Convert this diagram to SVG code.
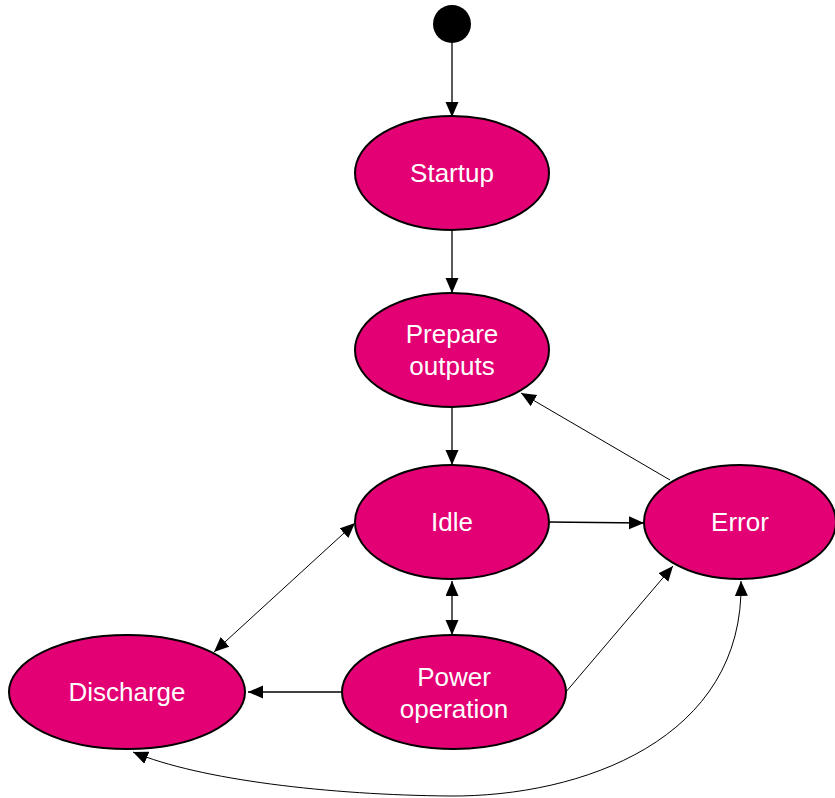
<svg xmlns="http://www.w3.org/2000/svg" width="835" height="798" viewBox="0 0 835 798">
<style>
.node ellipse{fill:#E20074;stroke:#000;stroke-width:2}
.node text{fill:#fff;font-family:"Liberation Sans",Arial,sans-serif;font-size:26px;text-anchor:middle}
.conn{fill:none;stroke:#000;stroke-width:1.3}
.thin{stroke-width:1}
</style>
<defs>
<marker id="ah" markerUnits="userSpaceOnUse" markerWidth="17" markerHeight="15" refX="15" refY="6.5" orient="auto-start-reverse">
<path d="M0,0 L15,6.5 L0,13 z" fill="#000"/>
</marker>
</defs>
<g id="connectors">
<line class="conn" x1="452" y1="43" x2="452" y2="117" marker-end="url(#ah)"/>
<line class="conn" x1="452" y1="231" x2="452" y2="293" marker-end="url(#ah)"/>
<line class="conn" x1="452" y1="408" x2="452" y2="465" marker-end="url(#ah)"/>
<line class="conn" x1="452" y1="581" x2="452" y2="635" marker-start="url(#ah)" marker-end="url(#ah)"/>
<line class="conn" x1="548" y1="522" x2="644" y2="523" marker-end="url(#ah)"/>
<line class="conn thin" x1="670" y1="480" x2="521" y2="393" marker-end="url(#ah)"/>
<line class="conn thin" x1="355" y1="523" x2="214" y2="652" marker-start="url(#ah)" marker-end="url(#ah)"/>
<line class="conn" x1="342" y1="692" x2="248" y2="692" marker-end="url(#ah)"/>
<line class="conn thin" x1="565" y1="693" x2="673" y2="566" marker-end="url(#ah)"/>
<path class="conn thin" d="M741 581 C745 740 580 797 450 796 C330 795 200 780 133 752" marker-start="url(#ah)" marker-end="url(#ah)"/>
</g>
<g id="start"><circle cx="452" cy="24" r="19" fill="#000"/></g>
<g id="startup" class="node"><ellipse cx="452" cy="173" rx="97" ry="57"/><text x="452" y="182">Startup</text></g>
<g id="prepare" class="node"><ellipse cx="452" cy="350" rx="97" ry="57"/><text x="452" y="343">Prepare</text><text x="452" y="375">outputs</text></g>
<g id="idle" class="node"><ellipse cx="452" cy="522" rx="97" ry="57"/><text x="452" y="531">Idle</text></g>
<g id="error" class="node"><ellipse cx="740" cy="522" rx="96" ry="57"/><text x="740" y="531">Error</text></g>
<g id="power" class="node"><ellipse cx="454" cy="692" rx="112" ry="57"/><text x="454" y="686">Power</text><text x="454" y="718">operation</text></g>
<g id="discharge" class="node"><ellipse cx="127" cy="692" rx="118" ry="57"/><text x="127" y="701">Discharge</text></g>
</svg>
